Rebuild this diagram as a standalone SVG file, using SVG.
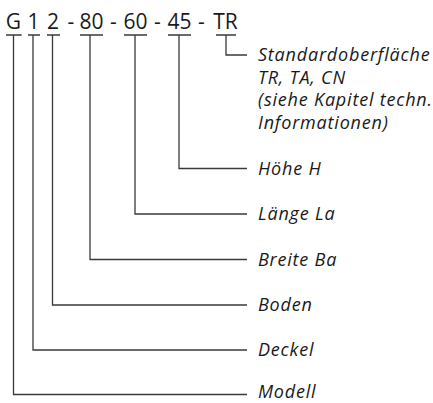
<svg xmlns="http://www.w3.org/2000/svg" width="433" height="403" viewBox="0 0 433 403">
<style>
.code{font-family:"Open Sans","Noto Sans","Liberation Sans",sans-serif;font-size:21px;fill:#1a1a1a;text-anchor:middle}
.lbl{font-family:"Open Sans","Noto Sans","Liberation Sans",sans-serif;font-size:18px;letter-spacing:0.8px;font-style:italic;fill:#1a1a1a}
.ln{fill:none;stroke:#3a3a3a;stroke-width:1.3}
</style>
<rect width="433" height="403" fill="#fff"/>
<g id="code">
<text class="code" x="13.5" y="29">G</text>
<text class="code" x="33.5" y="29">1</text>
<text class="code" x="53" y="29">2</text>
<text class="code" x="71" y="29">-</text>
<text class="code" x="91.5" y="29">80</text>
<text class="code" x="113.5" y="29">-</text>
<text class="code" x="135.5" y="29">60</text>
<text class="code" x="157.5" y="29">-</text>
<text class="code" x="179.5" y="29">45</text>
<text class="code" x="201.5" y="29">-</text>
<text class="code" x="225.5" y="29">TR</text>
</g>
<g id="connectors">
<path class="ln" d="M6 35H21.7M13.5 35V394.5H247"/>
<path class="ln" d="M28 35H40M33 35V350H247"/>
<path class="ln" d="M47 35H60M52.5 35V305H247"/>
<path class="ln" d="M80 35H103M90 35V259.5H247"/>
<path class="ln" d="M124 35H147M135 35V214H247"/>
<path class="ln" d="M168 35H191M179 35V168.5H247"/>
<path class="ln" d="M216 35H236M226 35V55H247"/>
</g>
<g id="n-oberflaeche">
<text class="lbl" x="258" y="61">Standardoberfläche</text>
<text class="lbl" x="258" y="83.5">TR, TA, CN</text>
<text class="lbl" x="258" y="106">(siehe Kapitel techn.</text>
<text class="lbl" x="258" y="128.5">Informationen)</text>
</g>
<g id="n-hoehe"><text class="lbl" x="258" y="174.5">Höhe H</text></g>
<g id="n-laenge"><text class="lbl" x="258" y="220">Länge La</text></g>
<g id="n-breite"><text class="lbl" x="258" y="265.5">Breite Ba</text></g>
<g id="n-boden"><text class="lbl" x="258" y="311">Boden</text></g>
<g id="n-deckel"><text class="lbl" x="258" y="356">Deckel</text></g>
<g id="n-modell"><text class="lbl" x="258" y="398">Modell</text></g>
</svg>
